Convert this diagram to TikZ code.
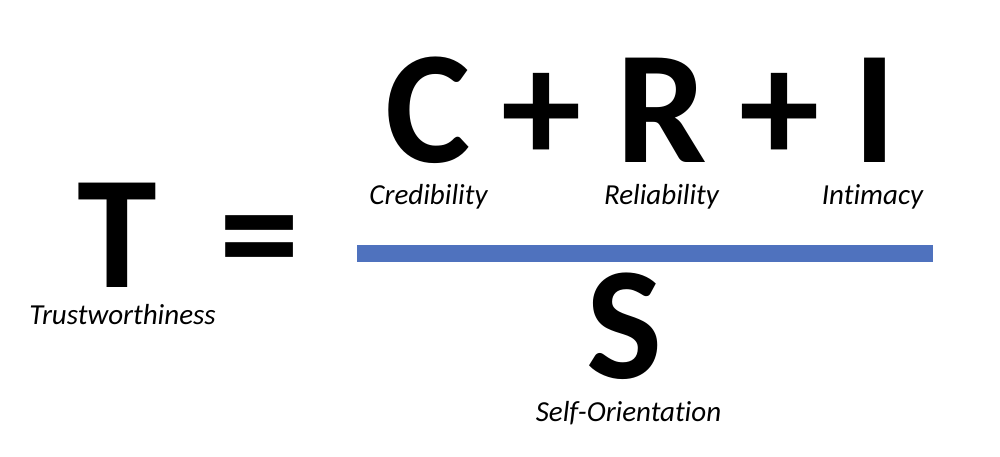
\documentclass[tikz,border=0pt]{standalone}
\usepackage{fontspec}
\setmainfont{Carlito}[RawFeature={-liga;-dlig;-clig}]
\definecolor{barblue}{RGB}{79,114,190}
\begin{document}
\begin{tikzpicture}[x=1pt,y=1pt,
  big/.style={inner sep=0pt, anchor=base, text depth=0pt, font=\bfseries\fontsize{161}{161}\selectfont},
  lab/.style={inner sep=0pt, anchor=base, font=\itshape\fontsize{29}{29}\selectfont}]
\useasboundingbox (0,0) rectangle (1000,457);
\fill[white] (0,0) rectangle (1000,457);
% left side
\node[big] (T) at (117.5,169) {T};
\node[lab] (Tl) at (122.5,132) {Trustworthiness};
\node[big] (eq) at (260,169) {=};
% numerator
\node[big] (C) at (428,294) {C};
\node[big] (p1) at (542,294) {+};
\node[big] (R) at (662,294) {R};
\node[big] (p2) at (780,294) {+};
\node[big] (I) at (875,294) {I};
\node[lab] (Cl) at (428.5,252) {Credibility};
\node[lab] (Rl) at (661.5,252) {Reliability};
\node[lab] (Il) at (872.5,252) {Intimacy};
% bar
\fill[barblue] (357,195) rectangle (933,212);
% denominator
\node[big] (S) at (625,78) {S};
\node[lab] (Sl) at (628.5,35) {Self-Orientation};
\end{tikzpicture}
\end{document}
